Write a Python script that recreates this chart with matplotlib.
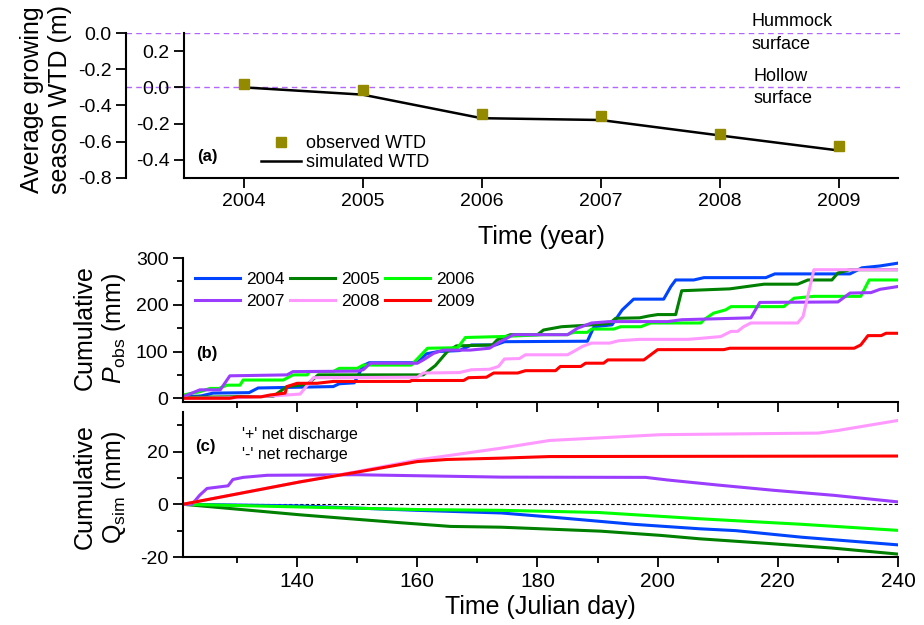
import numpy as np
import matplotlib
matplotlib.use('Agg')
import matplotlib.pyplot as plt
from matplotlib.ticker import MultipleLocator
from matplotlib.lines import Line2D

plt.rcParams['font.family'] = ['Liberation Sans', 'DejaVu Sans']
plt.rcParams['mathtext.fontset'] = 'custom'
plt.rcParams['mathtext.rm'] = 'Liberation Sans'
plt.rcParams['mathtext.it'] = 'Liberation Sans:italic'
plt.rcParams['axes.unicode_minus'] = False
plt.rcParams['axes.linewidth'] = 1.5

# ---- panel (a): growing season water table depth
years = [2004, 2005, 2006, 2007, 2008, 2009]
wtd_obs = [0.017, -0.015, -0.145, -0.16, -0.256, -0.324]
wtd_sim = [0.0, -0.04, -0.17, -0.18, -0.265, -0.348]

# ---- panel (b): cumulative observed precipitation (mm)
p_day_2004 = [121, 124, 126, 132, 133.5, 146, 147, 149.5, 151, 152, 160, 161.5, 163.5, 167, 169, 173, 174.5,
              188.3, 189.4, 192.4, 194.1, 196, 201, 202.2, 203, 206, 207.7, 218, 219.5, 232, 234, 237, 240]
p_val_2004 = [3, 5, 11, 12, 22, 25, 31, 33, 70, 76, 76, 95, 100, 102, 114, 114, 121,
              122, 153, 157, 189, 212, 212, 239, 253, 253, 258, 258, 266, 266, 279, 283, 289]
p_day_2005 = [121, 136, 138.3, 141.7, 143.5, 161, 163, 165, 166.5, 172.5, 173.3, 175.5, 180, 181, 184, 188,
              192, 193, 197, 198.5, 200, 203, 204, 212, 217.7, 223.3, 225, 229, 230, 232, 240]
p_val_2005 = [2, 4, 25, 30, 50, 50, 70, 100, 112, 114, 125, 136, 136, 146, 153, 156,
              160, 171, 172, 176, 179, 179, 230, 234, 244, 244, 253, 253, 268, 275, 275]
p_day_2006 = [121, 123.8, 125.5, 127, 128.3, 130.5, 131, 137.7, 139.3, 141.7, 142, 146, 147, 150, 151, 159,
              161.7, 166.7, 168, 174, 181, 185, 186, 188.3, 189, 192.7, 193.8, 197.2, 198.8, 207.2, 207.7,
              209.3, 211.3, 212.2, 221, 222.7, 226, 233.8, 235.2, 240]
p_val_2006 = [7, 14, 21, 21, 28, 28, 39, 39, 50, 50, 57, 57, 64, 64, 71, 71,
              107, 108, 130, 132, 136, 136, 141, 141, 148, 148, 153, 153, 161, 161, 168,
              182, 189, 196, 196, 214, 218, 218, 253, 253]
p_day_2007 = [121, 123.8, 127.2, 128.8, 138.3, 139.3, 150, 151, 152.2, 160, 161, 162.7, 164.3, 168.8, 172,
              173.8, 176, 185, 186.7, 189, 192, 201.7, 204, 215.5, 217, 230, 232, 235.5, 237, 240]
p_val_2007 = [3, 18, 18, 48, 50, 57, 58, 61, 75, 75, 82, 96, 103, 103, 107,
              121, 136, 136, 150, 161, 164, 164, 168, 172, 205, 206, 225, 226, 233, 239]
p_day_2008 = [121, 130, 136, 140.5, 142.7, 160, 161, 167, 169, 172, 173.5, 174.5, 177, 178, 185, 186,
              187.5, 189, 192, 193.5, 197, 205, 207, 210.5, 212.2, 213.3, 214.3, 215.5, 223.3, 224.2, 226, 240]
p_val_2008 = [0, 1, 5, 9, 44, 45, 54, 55, 61, 62, 68, 84, 85, 93, 93, 100,
              111, 118, 118, 123, 126, 126, 128, 132, 143, 143, 153, 161, 161, 175, 275, 275]
p_day_2009 = [121, 128.8, 130, 134, 135.5, 138, 138.3, 140, 143.3, 146, 158.8, 159, 167.7, 168.5, 171.5,
              172.7, 176.7, 178, 183, 183.8, 187.2, 188, 191, 191.7, 197.7, 200, 211, 212, 232.7, 233.8,
              235, 237.2, 238, 240]
p_val_2009 = [0, 0, 3, 3, 7, 11, 25, 32, 32, 36, 36, 38, 38, 44, 45,
              54, 54, 59, 59, 68, 68, 75, 75, 82, 82, 104, 104, 107, 107, 114,
              134, 134, 139, 139]

# ---- panel (c): cumulative simulated net lateral flow (mm)
q_day_2004 = [121, 140, 160, 174, 182, 196, 207, 213, 224, 240]
q_val_2004 = [0, -0.6, -2.3, -3.3, -4.8, -7.6, -9.3, -10.0, -12.5, -15.4]
q_day_2005 = [121, 132.2, 140.5, 148.8, 157.2, 165.5, 174, 190.5, 200.5, 207, 218, 229, 240]
q_val_2005 = [0, -2.3, -4.0, -5.5, -7.0, -8.4, -8.7, -10.2, -11.8, -13.1, -14.8, -16.6, -18.9]
q_day_2006 = [121, 140, 160, 174, 190, 207, 224, 240]
q_val_2006 = [0, -1.0, -2.0, -2.3, -3.1, -5.5, -7.6, -9.9]
q_day_2007 = [121, 122.5, 123.8, 125, 128.5, 129.3, 131, 135, 150, 174, 198, 201.7, 210, 219.3, 229.3, 240]
q_val_2007 = [0, 0, 3.5, 6.0, 7.0, 9.4, 10.2, 11.0, 11.2, 10.3, 10.2, 9.2, 7.3, 5.3, 3.4, 0.9]
q_day_2008 = [121, 140, 150, 160, 174, 182, 200.5, 226.7, 230, 240]
q_val_2008 = [0, 8.3, 12.4, 16.8, 21.3, 24.2, 26.4, 27.0, 28.0, 31.8]
q_day_2009 = [121, 140.5, 150, 160, 165, 174, 182, 240]
q_val_2009 = [0, 8.5, 12.2, 16.2, 17.0, 17.5, 18.1, 18.3]

labels = ['2004', '2005', '2006', '2007', '2008', '2009']
colors = ['#0044ff', '#008000', '#00ff00', '#9b3dff', '#ff99ff', '#ff0000']

p_days = [p_day_2004, p_day_2005, p_day_2006, p_day_2007, p_day_2008, p_day_2009]
p_vals = [p_val_2004, p_val_2005, p_val_2006, p_val_2007, p_val_2008, p_val_2009]
q_days = [q_day_2004, q_day_2005, q_day_2006, q_day_2007, q_day_2008, q_day_2009]
q_vals = [q_val_2004, q_val_2005, q_val_2006, q_val_2007, q_val_2008, q_val_2009]

W, H = 924, 625
fig = plt.figure(figsize=(W / 100, H / 100), dpi=100)


def box(x0, y0, x1, y1):
    return [x0 / W, 1 - y1 / H, (x1 - x0) / W, (y1 - y0) / H]


def style(ax, sides):
    for s in ['top', 'right', 'left', 'bottom']:
        ax.spines[s].set_visible(s in sides)
    ax.tick_params(which='major', direction='out', length=7, width=1.3, labelsize=14)
    ax.tick_params(which='minor', direction='out', length=4, width=1.3)


# outer WTD axis (relative to hummock surface)
ax0 = fig.add_axes(box(126, 33, 900, 178))
ax0.patch.set_visible(False)
style(ax0, ['left'])
ax0.set_xlim(0, 1)
ax0.set_ylim(-0.8, 0.0)
ax0.set_yticks([0.0, -0.2, -0.4, -0.6, -0.8])
ax0.yaxis.set_major_formatter(plt.FormatStrFormatter('%.1f'))
ax0.set_xticks([])
ax0.axhline(0.0, color='#b366ff', ls=(0, (4, 3)), lw=1)
ax0.axhline(-0.3, color='#b366ff', ls=(0, (4, 3)), lw=1)
ax0.text(0.808, 0.0, 'Hummock\nsurface', fontsize=13, va='center', ha='left', linespacing=1.4)
ax0.text(0.811, -0.3, 'Hollow\nsurface', fontsize=13, va='center', ha='left', linespacing=1.4)

ax_a = fig.add_axes(box(184, 33, 898, 178))
ax_a.patch.set_visible(False)
style(ax_a, ['left', 'bottom'])
ax_a.plot(years, wtd_sim, color='black', lw=1.8, label='simulated WTD')
ax_a.plot(years, wtd_obs, 's', color='#938a00', ms=7.5, ls='none', label='observed WTD')
ax_a.set_xlim(2003.5, 2009.5)
ax_a.set_ylim(-0.5, 0.3)
ax_a.set_xticks(years)
ax_a.set_yticks([-0.4, -0.2, 0.0, 0.2])
ax_a.yaxis.set_major_formatter(plt.FormatStrFormatter('%.1f'))
ax_a.tick_params(axis='x', labelsize=14)
ax_a.set_xlabel('Time (year)', fontsize=18, labelpad=11)
ax_a.text(0.018, 0.145, '(a)', transform=ax_a.transAxes, fontsize=12, fontweight='bold', va='center')
h = [Line2D([], [], marker='s', color='#938a00', ms=7.5, ls='none'),
     Line2D([], [], color='black', lw=1.8)]
ax_a.legend(h, ['observed WTD', 'simulated WTD'], loc='lower left', bbox_to_anchor=(0.085, -0.065),
            frameon=False, fontsize=13, handlelength=2.2, handletextpad=0.3, labelspacing=0.12)
fig.text(46 / W, 1 - 100 / H, 'Average growing\nseason WTD (m)', rotation=90, fontsize=18,
         ha='center', va='center', linespacing=1.25)

# panel (b)
ax_b = fig.add_axes(box(183, 258, 898, 402))
style(ax_b, ['left', 'bottom'])
lines_b = []
for d, v, c, l in zip(p_days, p_vals, colors, labels):
    ln, = ax_b.plot(d, v, color=c, lw=2.2, label=l)
    lines_b.append(ln)
ax_b.set_xlim(121, 240)
ax_b.set_ylim(-8, 300)
ax_b.set_yticks([0, 100, 200, 300])
ax_b.yaxis.set_minor_locator(MultipleLocator(50))
ax_b.xaxis.set_major_locator(MultipleLocator(20))
ax_b.xaxis.set_minor_locator(MultipleLocator(10))
ax_b.tick_params(axis='x', labelbottom=False)
# legend filled row by row: 2004 2005 2006 / 2007 2008 2009
order = [0, 3, 1, 4, 2, 5]
ax_b.legend([lines_b[i] for i in order], [labels[i] for i in order], loc='upper left',
            bbox_to_anchor=(-0.005, 1.01), ncol=3, frameon=False, fontsize=12.5,
            handlelength=2.6, handletextpad=0.35, columnspacing=0.3, labelspacing=0.38)
ax_b.text(0.018, 0.34, '(b)', transform=ax_b.transAxes, fontsize=12, fontweight='bold', va='center')
fig.text(100 / W, 1 - 328 / H, 'Cumulative\n$P_{\\mathrm{obs}}$ (mm)', rotation=90, fontsize=18,
         ha='center', va='center', linespacing=1.15)

# panel (c)
ax_c = fig.add_axes(box(183, 412, 898, 557))
style(ax_c, ['left', 'bottom'])
for d, v, c, l in zip(q_days, q_vals, colors, labels):
    ax_c.plot(d, v, color=c, lw=2.2, label=l)
ax_c.axhline(0, color='black', lw=0.8, ls=(0, (3, 2)), zorder=0)
ax_c.set_xlim(121, 240)
ax_c.set_ylim(-20, 35)
ax_c.set_yticks([-20, 0, 20])
ax_c.yaxis.set_minor_locator(MultipleLocator(10))
ax_c.xaxis.set_major_locator(MultipleLocator(20))
ax_c.xaxis.set_minor_locator(MultipleLocator(10))
ax_c.tick_params(axis='x', labelsize=15)
ax_c.set_xlabel('Time (Julian day)', fontsize=18, labelpad=3)
ax_c.text(0.017, 0.762, '(c)', transform=ax_c.transAxes, fontsize=12, fontweight='bold', va='center')
ax_c.text(0.083, 0.848, "'+' net discharge", transform=ax_c.transAxes, fontsize=11.5, va='center')
ax_c.text(0.083, 0.71, "'-' net recharge", transform=ax_c.transAxes, fontsize=11.5, va='center')
fig.text(100 / W, 1 - 487 / H, 'Cumulative\n$\\mathrm{Q}_{\\mathrm{sim}}$ (mm)', rotation=90, fontsize=18,
         ha='center', va='center', linespacing=1.15)

plt.savefig('out.png', dpi=100)
